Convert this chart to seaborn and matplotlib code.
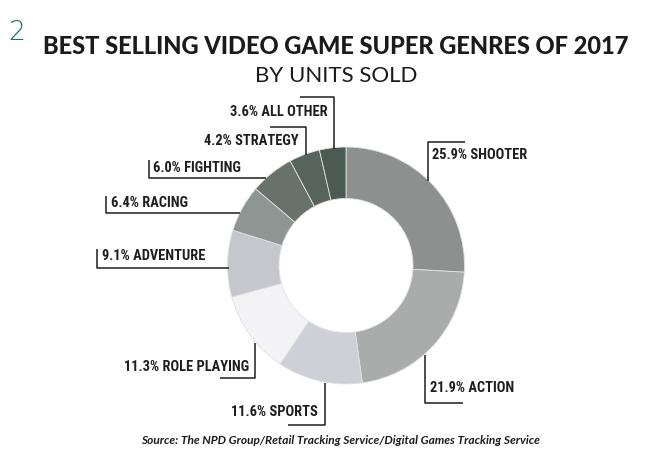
import matplotlib
matplotlib.use("Agg")
import matplotlib.pyplot as plt
import seaborn as sns

# Share of units sold by super genre, 2017 (clockwise from 12 o'clock)
genres = ["SHOOTER", "ACTION", "SPORTS", "ROLE PLAYING", "ADVENTURE",
          "RACING", "FIGHTING", "STRATEGY", "ALL OTHER"]
shares = [25.9, 21.9, 11.6, 11.3, 9.1, 6.4, 6.0, 4.2, 3.6]
colors = ["#8d908e", "#aaabab", "#cfcfd7", "#f3f3f5", "#c6c6cd",
          "#8f9592", "#68716c", "#56645d", "#4b5b54"]

sns.set_theme(style="white")
plt.rcParams["font.family"] = ["Lato", "DejaVu Sans"]

W, H = 645, 454
fig = plt.figure(figsize=(W / 100, H / 100), dpi=100)
ax = fig.add_axes([0, 0, 1, 1])

# Donut: drawn in a y-down pixel frame, so clockwise on screen = counterclock in data
cx, cy, r_out, ring = 346, 265.5, 118.5, 51.5
ax.pie(shares, colors=colors, startangle=-90, counterclock=True,
       center=(cx, cy), radius=r_out, frame=True,
       wedgeprops=dict(width=ring, edgecolor="#e2e2e2", linewidth=0.6))
ax.set_xlim(0, W)
ax.set_ylim(H, 0)
ax.set_aspect("equal")
ax.axis("off")

label_font = dict(family=["Roboto Condensed", "Roboto"],
                  fontstretch="condensed", fontweight="bold",
                  fontsize=10.4, color="#1e1e1e")
line_kw = dict(color="#1e1e1e", lw=1.1, solid_capstyle="butt")

# (text x, text y, alignment, leader polyline)
layout = {
    "SHOOTER":      (432, 155, "left",  [(465, 142), (428, 142), (428, 181)]),
    "ACTION":       (430, 388, "left",  [(425, 355), (425, 403), (463, 403)]),
    "SPORTS":       (318, 412, "right", [(325, 383), (325, 425), (288, 425)]),
    "ROLE PLAYING": (249, 367, "right", [(255, 343), (255, 378), (220, 378)]),
    "ADVENTURE":    (102, 256, "left",  [(97, 249), (97, 268), (229, 268)]),
    "RACING":       (111, 203, "left",  [(106, 196), (106, 213), (240, 213)]),
    "FIGHTING":     (153, 168, "left",  [(149, 160), (149, 178), (266, 178)]),
    "STRATEGY":     (299, 141, "right", [(270, 127), (306, 127), (306, 155)]),
    "ALL OTHER":    (328, 112, "right", [(300, 97), (334, 97), (334, 149)]),
}

for name, val in zip(genres, shares):
    tx, ty, ha, pts = layout[name]
    ax.text(tx, ty, f"{val:.1f}% {name}", ha=ha, va="center", **label_font)
    xs, ys = zip(*pts)
    ax.plot(xs, ys, **line_kw)

ax.text(336, 47, "BEST SELLING VIDEO GAME SUPER GENRES OF 2017", ha="center",
        va="center", fontsize=17, fontweight="black", color="#1b1b1b")
ax.text(336, 76, "BY UNITS SOLD", ha="center", va="center",
        fontsize=16, color="#1b1b1b")
ax.text(17, 33, "2", ha="center", va="center", fontsize=19,
        color="#1f6e6a", family=["DejaVu Sans"], fontweight="light")
ax.text(340, 441,
        "Source: The NPD Group/Retail Tracking Service/Digital Games Tracking Service",
        ha="center", va="center", fontsize=8.6, fontstyle="italic",
        fontweight="bold", color="#1b1b1b")

fig.savefig("out.png", dpi=100)
